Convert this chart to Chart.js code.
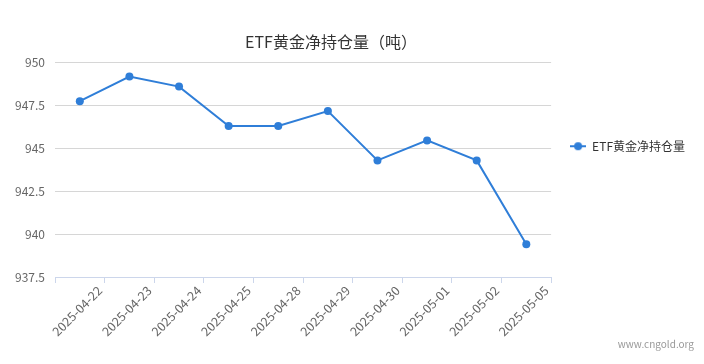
<!DOCTYPE html>
<html><head><meta charset="utf-8">
<script src="https://cdn.jsdelivr.net/npm/chart.js@4"></script>
<style>html,body{margin:0;padding:0;background:#fff}#wrap{width:704px;height:364px}</style>
</head><body><div id="wrap"><canvas id="c" width="704" height="364"></canvas></div>
<script>
const categories = ['2025-04-22','2025-04-23','2025-04-24','2025-04-25','2025-04-28','2025-04-29','2025-04-30','2025-05-01','2025-05-02','2025-05-05'];
const holdings = [947.72, 949.15, 948.57, 946.28, 946.28, 947.15, 944.28, 945.44, 944.28, 939.40];
const yMin = 937.5;
const yMax = 950;
const yStep = 2.5;
const chartTitle = 'ETF黄金净持仓量（吨）';
const seriesName = 'ETF黄金净持仓量';
const watermark = 'www.cngold.org';

const FONT = "'Microsoft YaHei','Noto Sans CJK SC','Noto Sans',sans-serif";
const BLUE = '#2f7ed8';

const marker = document.createElement('canvas');
marker.width = 16; marker.height = 10;
const mctx = marker.getContext('2d');
mctx.strokeStyle = BLUE; mctx.lineWidth = 2;
mctx.beginPath(); mctx.moveTo(0,5); mctx.lineTo(16,5); mctx.stroke();
mctx.fillStyle = BLUE; mctx.beginPath(); mctx.arc(8,5,4,0,Math.PI*2); mctx.fill();

const textPlugin = {
  id: 'customText',
  afterDraw(chart) {
    const ctx = chart.ctx;
    ctx.save();
    ctx.font = `16px ${FONT}`;
    ctx.fillStyle = '#333';
    ctx.textAlign = 'center';
    ctx.textBaseline = 'middle';
    ctx.fillText(chartTitle, 331, 42);
    ctx.font = `10px ${FONT}`;
    ctx.fillStyle = '#999';
    ctx.textAlign = 'right';
    ctx.fillText(watermark, 694, 344);
    ctx.restore();
  }
};

new Chart(document.getElementById('c'), {
  type: 'line',
  data: {
    labels: categories,
    datasets: [{
      label: seriesName, data: holdings,
      borderColor: BLUE, backgroundColor: BLUE, borderWidth: 2,
      pointRadius: 4, pointHoverRadius: 4, pointBackgroundColor: BLUE, pointBorderWidth: 0,
      tension: 0, fill: false
    }]
  },
  options: {
    responsive: false, animation: false,
    layout: { padding: { top: 62, left: 0, right: 9, bottom: 0 } },
    plugins: {
      title: { display: false },
      tooltip: { enabled: false },
      legend: {
        position: 'right', align: 'start',
        title: { display: true, text: ' ', padding: { top: 58, bottom: 0 }, font: { size: 1 } },
        labels: {
          usePointStyle: true, pointStyleWidth: 16, padding: 19,
          font: { family: FONT, size: 12 }, color: '#333',
          generateLabels() {
            return [{ text: seriesName, pointStyle: marker, fillStyle: BLUE, strokeStyle: BLUE, lineWidth: 0, hidden: false, datasetIndex: 0, fontColor: '#333' }];
          }
        }
      }
    },
    scales: {
      x: {
        offset: true,
        grid: { offset: true, drawOnChartArea: false, drawTicks: true, tickLength: 6, color: '#ccd6eb' },
        border: { color: '#ccd6eb' },
        ticks: { minRotation: 45, maxRotation: 45, autoSkip: false, labelOffset: 20, padding: 0, color: '#666', font: { family: FONT, size: 12.5 } },
        afterFit(s) { s.height = 87; }
      },
      y: {
        min: yMin, max: yMax,
        ticks: { stepSize: yStep, padding: 10, color: '#666', font: { family: FONT, size: 12 } },
        grid: { color: '#d6d6d6', drawTicks: false },
        border: { display: false },
        afterFit(s) { s.width = 55; }
      }
    }
  },
  plugins: [textPlugin]
});
</script></body></html>
